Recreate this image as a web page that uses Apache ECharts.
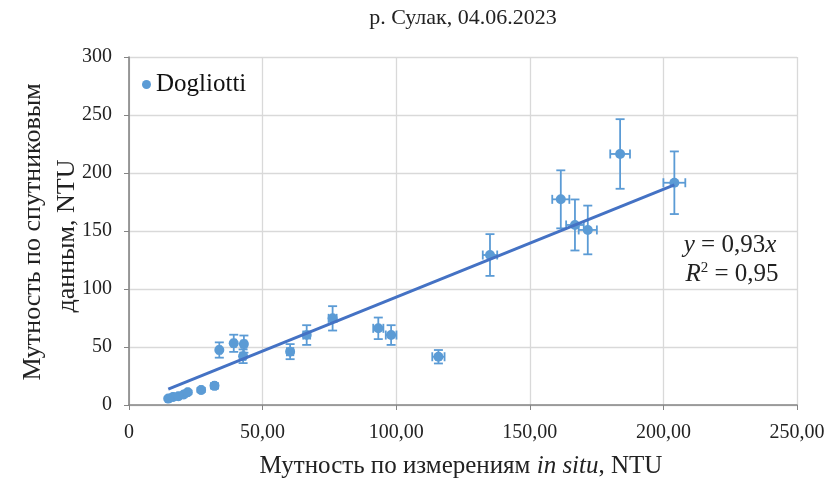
<!DOCTYPE html>
<html>
<head>
<meta charset="utf-8">
<script src="https://cdn.jsdelivr.net/npm/echarts@6/dist/echarts.min.js"></script>
<style>
  html, body { margin: 0; padding: 0; background: #fff; }
  #chart { width: 828px; height: 479px; }
</style>
</head>
<body>
<div id="chart"></div>
<script>
// Turbidity, in situ measurements vs satellite estimates (Dogliotti algorithm)
const seriesName = 'Dogliotti';
const measured  = [14.7, 16.5, 18.5, 20.5, 22.0, 27.0, 32.0, 33.8, 39.2, 43.0, 42.7, 60.3, 66.5, 76.2, 93.3, 98.1, 115.8, 135.1, 161.6, 166.9, 171.7, 183.8, 204.1];
const satellite = [5.5, 7.0, 7.5, 9.0, 11.0, 13.0, 16.5, 47.4, 53.2, 52.5, 42.0, 46.0, 60.3, 74.7, 66.1, 60.3, 41.6, 129.3, 177.3, 155.2, 150.9, 216.4, 191.6];
const errMeasured  = [0.3, 0.3, 0.4, 0.4, 0.4, 0.5, 0.6, 0.7, 0.8, 0.9, 0.9, 1.2, 1.3, 1.5, 1.9, 2.0, 2.3, 2.7, 3.2, 3.3, 3.4, 3.7, 4.1];
const errSatellite = [0.8, 1.0, 1.0, 1.3, 1.5, 1.8, 2.3, 6.6, 7.4, 7.4, 5.9, 6.5, 8.5, 10.5, 9.3, 8.5, 5.8, 18.0, 25.0, 22.0, 21.0, 30.0, 27.0];
const trendSlope = 0.93;
const trendR2 = 0.95;
const xTicks = [0, 50, 100, 150, 200, 250];
const yTicks = [0, 50, 100, 150, 200, 250, 300];

const FONT = '"Liberation Serif", "Times New Roman", serif';
const POINT = '#5b9bd5';
const TREND = '#4472c4';

const points = measured.map((x, i) => [x, satellite[i]]);
const bars = measured.map((x, i) => [x, satellite[i], errMeasured[i], errSatellite[i]]);
const xMin = Math.min(...measured), xMax = Math.max(...measured);
const trend = [[xMin, trendSlope * xMin], [xMax, trendSlope * xMax]];
const fmtNum = v => v.toFixed(2).replace('.', ',');
const comma = v => String(v).replace('.', ',');

const chart = echarts.init(document.getElementById('chart'), null, { renderer: 'canvas' });

function renderErrorBars(params, api) {
  const x = api.value(0), y = api.value(1), ex = api.value(2), ey = api.value(3);
  const top = api.coord([x, y + ey]), bot = api.coord([x, y - ey]);
  const lft = api.coord([x - ex, y]), rgt = api.coord([x + ex, y]);
  const cap = 4.5;
  const st = { stroke: POINT, lineWidth: 1.8 };
  const seg = (x1, y1, x2, y2) => ({ type: 'line', shape: { x1, y1, x2, y2 }, style: st });
  return {
    type: 'group',
    children: [
      seg(top[0], top[1], bot[0], bot[1]),
      seg(top[0] - cap, top[1], top[0] + cap, top[1]),
      seg(bot[0] - cap, bot[1], bot[0] + cap, bot[1]),
      seg(lft[0], lft[1], rgt[0], rgt[1]),
      seg(lft[0], lft[1] - cap, lft[0], lft[1] + cap),
      seg(rgt[0], rgt[1] - cap, rgt[0], rgt[1] + cap)
    ]
  };
}

const axisText = { fontFamily: FONT, fontSize: 20, color: '#222' };
const rich25 = {
  n: { fontFamily: FONT, fontSize: 25, fill: '#222' },
  i: { fontFamily: FONT, fontSize: 25, fontStyle: 'italic', fill: '#222' },
  s: { fontFamily: FONT, fontSize: 15, fill: '#222', padding: [0, 0, 12, 0] }
};

chart.setOption({
  animation: false,
  backgroundColor: '#fff',
  textStyle: { fontFamily: FONT },
  grid: { left: 129, right: 31, top: 57, bottom: 74, containLabel: false, outerBoundsMode: 'none' },
  legend: {
    data: [seriesName],
    left: 137, top: 67,
    icon: 'circle', itemWidth: 9, itemHeight: 9, itemGap: 7,
    textStyle: { fontFamily: FONT, fontSize: 25, color: '#111' }
  },
  xAxis: {
    type: 'value', min: xTicks[0], max: xTicks[xTicks.length - 1], interval: 50,
    axisLine: { show: true, onZero: false, lineStyle: { color: '#858585', width: 1.6 } },
    axisTick: { show: true, length: 5, lineStyle: { color: '#858585' } },
    splitLine: { show: true, lineStyle: { color: '#d9d9d9', width: 1.3 } },
    axisLabel: Object.assign({ margin: 18, formatter: v => v === 0 ? '0' : fmtNum(v) }, axisText)
  },
  yAxis: {
    type: 'value', min: yTicks[0], max: yTicks[yTicks.length - 1], interval: 50,
    axisLine: { show: true, lineStyle: { color: '#858585', width: 1.6 } },
    axisTick: { show: true, length: 5, lineStyle: { color: '#858585' } },
    splitLine: { show: true, lineStyle: { color: '#d9d9d9', width: 1.3 } },
    axisLabel: Object.assign({ margin: 17 }, axisText)
  },
  graphic: [
    {
      type: 'text', x: 463, y: 18,
      style: { text: 'р. Сулак, 04.06.2023', font: '22px ' + FONT, fill: '#222', align: 'center', verticalAlign: 'middle' }
    },
    {
      type: 'text', x: 461, y: 466,
      style: {
        text: '{n|Мутность по измерениям }{i|in situ}{n|, NTU}',
        align: 'center', verticalAlign: 'middle', rich: rich25
      }
    },
    {
      type: 'text', x: 33, y: 232, rotation: Math.PI / 2,
      style: { text: 'Мутность по спутниковым', font: '26px ' + FONT, fill: '#222', align: 'center', verticalAlign: 'middle' }
    },
    {
      type: 'text', x: 67, y: 236, rotation: Math.PI / 2,
      style: { text: 'данным, NTU', font: '26px ' + FONT, fill: '#222', align: 'center', verticalAlign: 'middle' }
    },
    {
      type: 'text', x: 730, y: 245,
      style: {
        text: '{i|y}{n| = ' + comma(trendSlope) + '}{i|x}',
        align: 'center', verticalAlign: 'middle', rich: rich25
      }
    },
    {
      type: 'text', x: 732, y: 274,
      style: {
        text: '{i|R}{s|2}{n| = ' + comma(trendR2) + '}',
        align: 'center', verticalAlign: 'middle', rich: rich25
      }
    }
  ],
  series: [
    {
      name: 'errors', type: 'custom', data: bars, renderItem: renderErrorBars,
      encode: { x: 0, y: 1 }, z: 2, silent: true
    },
    {
      name: seriesName, type: 'scatter', data: points,
      symbol: 'circle', symbolSize: 10,
      itemStyle: { color: POINT, opacity: 1 }, z: 3
    },
    {
      name: 'trend', type: 'line', data: trend, showSymbol: false, symbol: 'none',
      lineStyle: { color: TREND, width: 3 }, z: 4, silent: true
    }
  ]
});
</script>
</body>
</html>
